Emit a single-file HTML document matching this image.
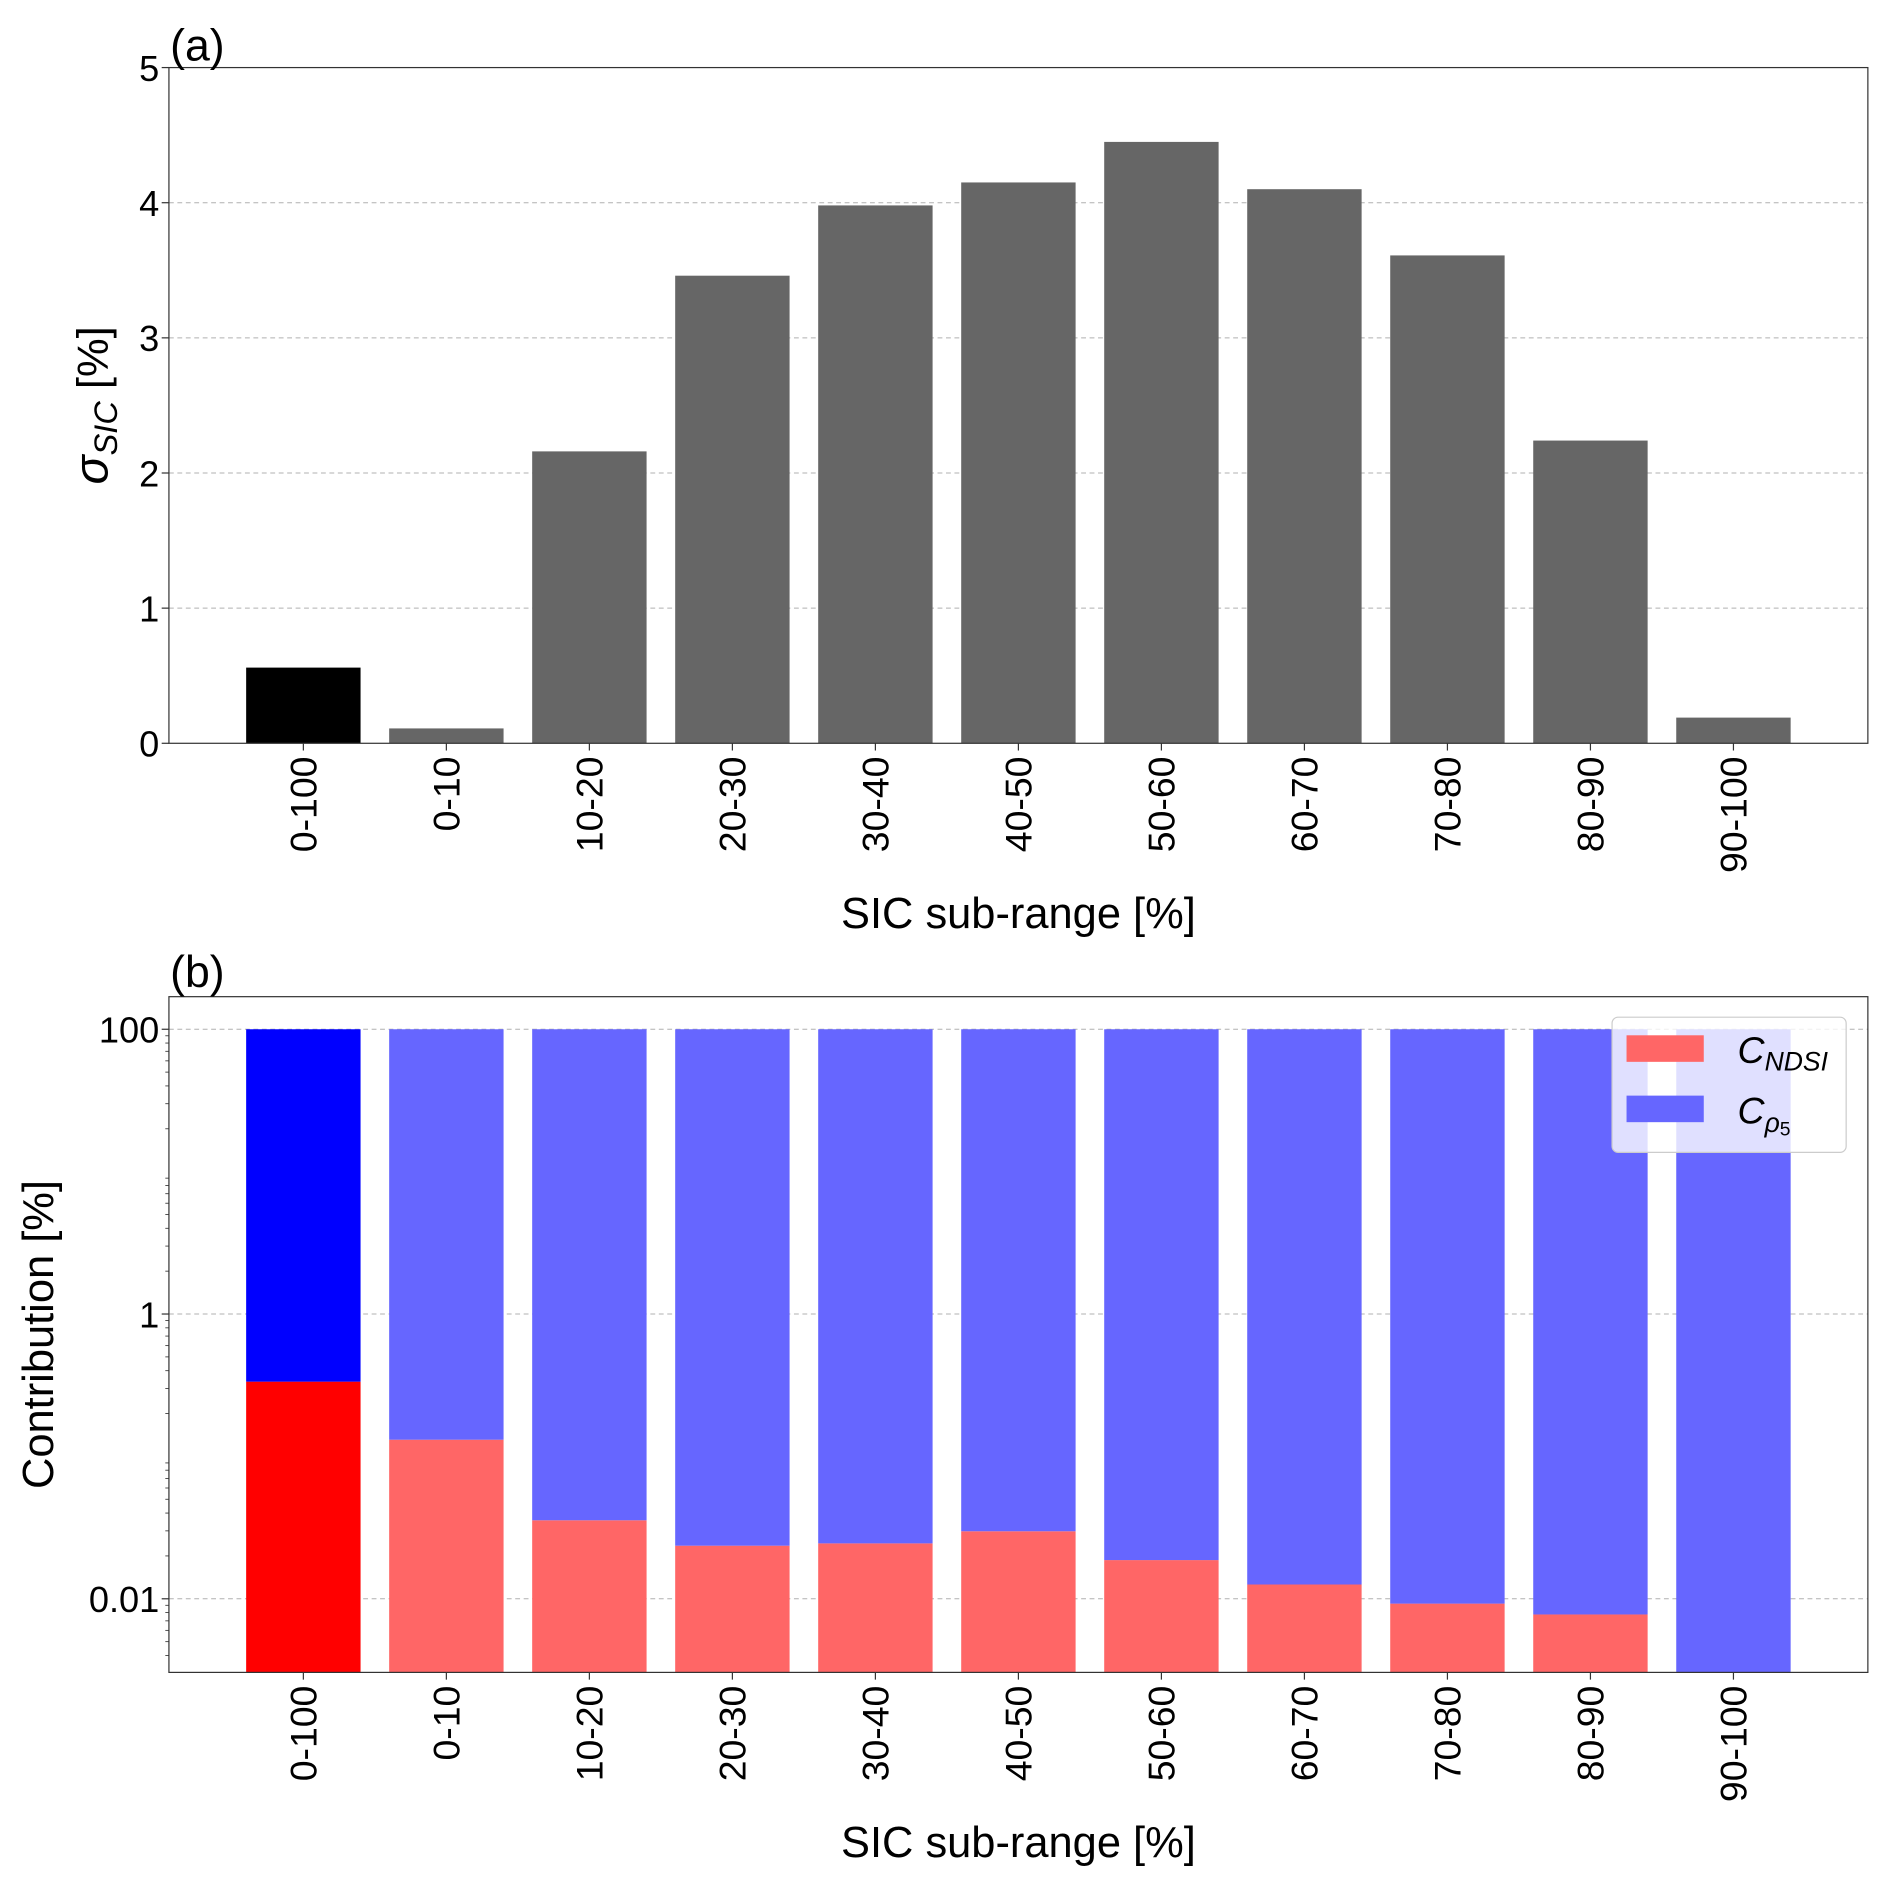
<!DOCTYPE html>
<html><head><meta charset="utf-8"><style>
html,body{margin:0;padding:0;background:#fff;}
svg{display:block;font-family:"Liberation Sans",Arial,sans-serif;}
</style></head><body>
<svg id="fig" width="1892" height="1892" viewBox="0 0 1568 1568" xmlns="http://www.w3.org/2000/svg"></svg>
<script>
const categories = ["0-100","0-10","10-20","20-30","30-40","40-50","50-60","60-70","70-80","80-90","90-100"];
const sigmaValues = [0.56,0.11,2.16,3.46,3.98,4.15,4.45,4.10,3.61,2.24,0.19];
const ndsiValues = [0.335,0.131,0.0356,0.0236,0.0245,0.0298,0.0187,0.0126,0.00925,0.00776,0];
const totalValue = 100;
const yTicksA = [0,1,2,3,4,5];
const yTicksB = [100,1,0.01];
const yTickLabelsB = ["100","1","0.01"];

const NS="http://www.w3.org/2000/svg";
const svg=document.getElementById('fig');
function el(tag,attrs,parent){const e=document.createElementNS(NS,tag);for(const k in attrs)e.setAttribute(k,attrs[k]);(parent||svg).appendChild(e);return e;}
const L=140,R=1548,xmin=-0.94,xmax=10.94;
const xs=i=>L+(i-xmin)/(xmax-xmin)*(R-L);
const bw=0.8*(R-L)/(xmax-xmin);

// Panel A
const aT=56,aB=616;
const ya=v=>aB-(v/5)*(aB-aT);
const gA=el('g',{});


yTicksA.forEach(t=>{
  if(t>0&&t<5){const g=el('line',{x1:L,x2:R,y1:ya(t),y2:ya(t),stroke:'#b0b0b0','stroke-width':0.8,'stroke-dasharray':'4 3'},gA);
  }
  el('line',{x1:L-6,x2:L,y1:ya(t),y2:ya(t),stroke:'#333','stroke-width':1},gA);
  const tx=el('text',{x:L-8,y:ya(t)+11,'text-anchor':'end','font-size':30},gA);tx.textContent=t;
  
});
sigmaValues.forEach((v,i)=>{
  const r=el('rect',{x:xs(i)-bw/2,y:ya(v),width:bw,height:aB-ya(v),fill:i===0?'#000':'#666666'},gA);
  
});
el('rect',{x:L,y:aT,width:R-L,height:aB-aT,fill:'none',stroke:'#333','stroke-width':1},gA);
categories.forEach((c,i)=>{
  el('line',{x1:xs(i),x2:xs(i),y1:aB,y2:aB+6,stroke:'#333'},gA);
  const t=el('text',{x:0,y:0,'text-anchor':'end','font-size':31,transform:`translate(${xs(i)+11},${aB+11}) rotate(-90)`},gA);t.textContent=c;
  
});
let t1=el('text',{x:844,y:769,'text-anchor':'middle','font-size':36},gA);t1.textContent='SIC sub-range [%]';

let ya1=el('text',{x:0,y:0,'text-anchor':'middle','font-size':36,transform:'translate(89,336) rotate(-90)'},gA);
ya1.innerHTML='<tspan font-style="italic" font-size="40">σ</tspan><tspan font-style="italic" font-size="27" dy="8">SIC</tspan><tspan dy="-8"> [%]</tspan>';

let pa=el('text',{x:141,y:50,'font-size':37},gA);pa.textContent='(a)';


// Panel B
const bT=826,bB=1386;
const dec=118, y1=1089;
const yb=v=>y1-Math.log10(v)*dec;
const gB=el('g',{});


yTicksB.forEach((t,k)=>{
  const g=el('line',{x1:L,x2:R,y1:yb(t),y2:yb(t),stroke:'#b0b0b0','stroke-width':0.8,'stroke-dasharray':'4 3'},gB);
  
  el('line',{x1:L-6,x2:L,y1:yb(t),y2:yb(t),stroke:'#333'},gB);
  const tx=el('text',{x:L-8,y:yb(t)+11,'text-anchor':'end','font-size':30},gB);tx.textContent=yTickLabelsB[k];
  
});
for(let e=-3;e<=2;e++){for(let m=2;m<=9;m++){const v=m*Math.pow(10,e);const y=yb(v);if(y>bT&&y<bB)el('line',{x1:L-3,x2:L,y1:y,y2:y,stroke:'#333','stroke-width':0.7},gB);}}
ndsiValues.forEach((v,i)=>{
  const base=bB;
  const top=v>0?yb(v):bB;
  if(v>0){const r=el('rect',{x:xs(i)-bw/2,y:top,width:bw,height:base-top,fill:i===0?'#ff0000':'#ff6666'},gB);
  }
  const bt=yb(v+(totalValue-v));
  const r2=el('rect',{x:xs(i)-bw/2,y:bt,width:bw,height:top-bt,fill:i===0?'#0000ff':'#6666ff'},gB);
  
});
el('rect',{x:L,y:bT,width:R-L,height:bB-bT,fill:'none',stroke:'#333','stroke-width':1},gB);
categories.forEach((c,i)=>{
  el('line',{x1:xs(i),x2:xs(i),y1:bB,y2:bB+6,stroke:'#333'},gB);
  const t=el('text',{x:0,y:0,'text-anchor':'end','font-size':31,transform:`translate(${xs(i)+11},${bB+11}) rotate(-90)`},gB);t.textContent=c;
  
});
let t2=el('text',{x:844,y:1539,'text-anchor':'middle','font-size':36},gB);t2.textContent='SIC sub-range [%]';

let yb1=el('text',{x:0,y:0,'text-anchor':'middle','font-size':36,transform:'translate(44,1106) rotate(-90)'},gB);yb1.textContent='Contribution [%]';

let pb=el('text',{x:141,y:818,'font-size':37},gB);pb.textContent='(b)';


// Legend
const lg=el('g',{},gB);

el('rect',{x:1336,y:843,width:194,height:112,rx:5,fill:'#ffffff','fill-opacity':0.8,stroke:'#cccccc'},lg);
const le1=el('rect',{x:1348,y:858,width:64,height:22,fill:'#ff6666'},lg);

const le2=el('rect',{x:1348,y:908,width:64,height:22,fill:'#6666ff'},lg);

const lt1=el('text',{x:1440,y:881,'font-size':31,'font-style':'italic'},lg);
lt1.innerHTML='C<tspan font-size="22" dy="6">NDSI</tspan>';

const lt2=el('text',{x:1440,y:931,'font-size':31,'font-style':'italic'},lg);
lt2.innerHTML='C<tspan font-size="22" dy="7">ρ</tspan><tspan font-size="16" font-style="normal" dy="3">5</tspan>';

</script>
</body></html>
